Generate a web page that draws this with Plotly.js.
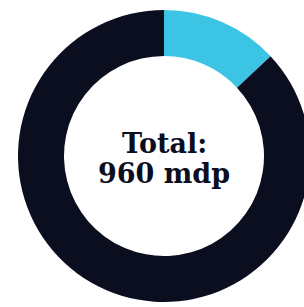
<!DOCTYPE html>
<html>
<head>
<meta charset="utf-8">
<script src="https://cdn.plot.ly/plotly-3.0.1.min.js"></script>
<style>
html, body { margin: 0; padding: 0; overflow: hidden; background: #ffffff; width: 304px; height: 307px; }
#chart { width: 328px; height: 307px; }
</style>
</head>
<body>
<div id="chart"></div>
<script>
const labels = ["Segmento A", "Segmento B"];
const values = [125, 835];
const colors = ["#3cc4e4", "#0b0e1f"];
const centerLines = ["Total:", "960 mdp"];

const trace = {
  type: "pie",
  labels: labels,
  values: values,
  hole: 0.685,
  sort: false,
  direction: "clockwise",
  rotation: 0,
  textinfo: "none",
  hoverinfo: "none",
  marker: { colors: colors, line: { width: 0 } },
  domain: { x: [0, 1], y: [0.0163, 0.9674] },
  showlegend: false
};

const linePx = [143, 173];
const layout = {
  width: 328,
  height: 307,
  margin: { l: 0, r: 0, t: 0, b: 0, pad: 0 },
  paper_bgcolor: "#ffffff",
  plot_bgcolor: "#ffffff",
  showlegend: false,
  annotations: centerLines.map((t, i) => ({
    text: t,
    x: 0.5, y: 1 - linePx[i] / 307,
    xref: "paper", yref: "paper",
    xanchor: "center", yanchor: "middle",
    showarrow: false,
    align: "center",
    font: { family: "DejaVu Serif", size: 27, color: "#0b0e1f", weight: "bold" }
  }))
};

Plotly.newPlot("chart", [trace], layout, { displayModeBar: false, staticPlot: true });
</script>
</body>
</html>
